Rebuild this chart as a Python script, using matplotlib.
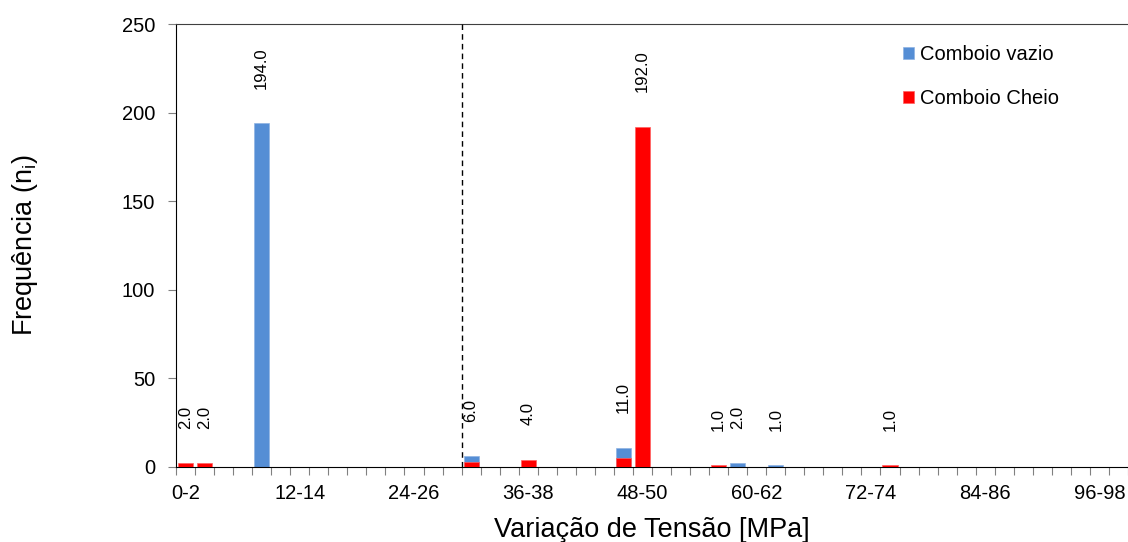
import matplotlib
matplotlib.use("Agg")
import matplotlib.pyplot as plt
from matplotlib.ticker import FixedLocator, FixedFormatter

plt.rcParams["font.family"] = ["Liberation Sans", "DejaVu Sans"]

# bins of 2 MPa: 0-2, 2-4, ... 98-100
bin_starts = [0, 2, 4, 6, 8, 10, 12, 14, 16, 18, 20, 22, 24, 26, 28, 30, 32, 34, 36, 38,
              40, 42, 44, 46, 48, 50, 52, 54, 56, 58, 60, 62, 64, 66, 68, 70, 72, 74, 76, 78,
              80, 82, 84, 86, 88, 90, 92, 94, 96, 98]

vazio = [0, 0, 0, 0, 194, 0, 0, 0, 0, 0, 0, 0, 0, 0, 0, 6, 0, 0, 0, 0,
         0, 0, 0, 11, 0, 0, 0, 0, 0, 2, 0, 1, 0, 0, 0, 0, 0, 0, 0, 0,
         0, 0, 0, 0, 0, 0, 0, 0, 0, 0]
cheio = [2, 2, 0, 0, 0, 0, 0, 0, 0, 0, 0, 0, 0, 0, 0, 3, 0, 0, 4, 0,
         0, 0, 0, 5, 192, 0, 0, 0, 1, 0, 0, 0, 0, 0, 0, 0, 0, 1, 0, 0,
         0, 0, 0, 0, 0, 0, 0, 0, 0, 0]

tick_bins = [0, 6, 12, 18, 24, 30, 36, 42, 48]
tick_labels = ["0-2", "12-14", "24-26", "36-38", "48-50", "60-62", "72-74", "84-86", "96-98"]
split_stress = 30  # dashed line between 28-30 and 30-32

blue = "#558ed5"
red = "#ff0000"

fig = plt.figure(figsize=(11.28, 5.42), dpi=100)
ax = fig.add_axes([176 / 1128, 1 - 467 / 542, 1 - 176 / 1128, (467 - 24) / 542])

x = list(range(len(bin_starts)))
ax.bar(x, vazio, width=0.8, color=blue, edgecolor="#8fb3e3", linewidth=0.5,
       label="Comboio vazio", zorder=2)
ax.bar(x, cheio, width=0.8, color=red, edgecolor="#ff6060", linewidth=0.5,
       label="Comboio Cheio", zorder=3)

# data labels (largest value of each bin)
for i in x:
    v = max(vazio[i], cheio[i])
    if v > 0:
        ax.annotate(f"{v:.1f}", (i, v), xytext=(0, 25), textcoords="offset points",
                    rotation=90, ha="center", va="bottom", fontsize=12)

# dashed divider
xs = bin_starts.index(split_stress) - 0.5
ax.axvline(xs, color="black", linestyle=(0, (4, 3)), linewidth=1, zorder=4)

ax.set_xlim(-0.5, len(bin_starts) - 0.5)
ax.set_ylim(0, 250)
ax.set_yticks([0, 50, 100, 150, 200, 250])

ax.xaxis.set_major_locator(FixedLocator(tick_bins))
ax.xaxis.set_major_formatter(FixedFormatter(tick_labels))
ax.xaxis.set_minor_locator(FixedLocator([i - 0.5 for i in range(len(bin_starts) + 1)]))
ax.tick_params(axis="x", which="major", length=0, pad=12, labelsize=14.5)
ax.tick_params(axis="x", which="minor", length=6, color="#808080", width=0.8)
ax.tick_params(axis="y", length=6, color="#808080", width=0.8, labelsize=14.5, pad=9)

ax.spines["right"].set_visible(False)
ax.spines["top"].set_color("#404040")
ax.spines["left"].set_color("black")
ax.spines["bottom"].set_color("black")

ax.set_xlabel("Variação de Tensão [MPa]", fontsize=19.5, labelpad=10)
ax.set_ylabel("Frequência (n$_\\mathregular{i}$)", fontsize=19.5, labelpad=59)

ax.legend(loc="upper left", bbox_to_anchor=(903 / 1128, 1 - 45 / 542),
          bbox_transform=fig.transFigure, frameon=False, fontsize=14.5,
          handlelength=0.55, handleheight=0.55, handletextpad=0.3,
          labelspacing=1.25, borderpad=0, borderaxespad=0)

fig.savefig("out.png", dpi=100)
